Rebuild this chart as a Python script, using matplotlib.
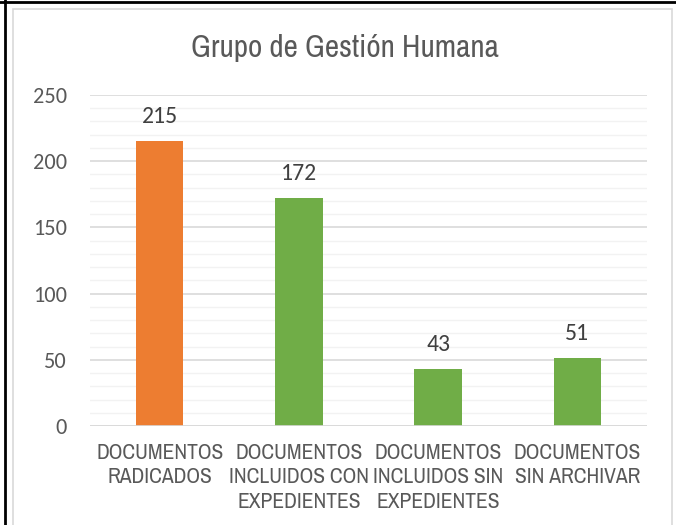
import matplotlib
matplotlib.use("Agg")
import matplotlib.pyplot as plt
from matplotlib.patches import Rectangle
from matplotlib.lines import Line2D
import numpy as np

categories = ["DOCUMENTOS\nRADICADOS", "DOCUMENTOS\nINCLUIDOS CON\nEXPEDIENTES",
              "DOCUMENTOS\nINCLUIDOS SIN\nEXPEDIENTES", "DOCUMENTOS\nSIN ARCHIVAR"]
values = [215, 172, 43, 51]
colors = ["#ED7D31", "#70AD47", "#70AD47", "#70AD47"]
yticks = [0, 50, 100, 150, 200, 250]
title = "Grupo de Gestión Humana"

NARROW = ["Liberation Sans Narrow", "Archivo Narrow", "DejaVu Sans"]
NUM = ["Carlito", "Lato", "DejaVu Sans"]

W, H = 676, 525
fig = plt.figure(figsize=(W / 100, H / 100), dpi=100)
fig.patch.set_facecolor("white")

# plot area in pixels: x 90..647, y 95..426
ax = fig.add_axes([90 / W, 1 - 426 / H, (647 - 90) / W, (426 - 95) / H])
x = np.arange(len(values))
ax.bar(x, values, width=0.34, color=colors, zorder=3)
ax.set_xlim(-0.5, len(values) - 0.5)
ax.set_ylim(0, 250)
ax.set_yticks(yticks)
ax.set_yticks(np.arange(0, 251, 10), minor=True)
ax.grid(axis="y", which="major", color="#D9D9D9", linewidth=1.2, zorder=0)
ax.grid(axis="y", which="minor", color="#F2F2F2", linewidth=1.0, zorder=0)
ax.tick_params(axis="y", which="both", length=0, labelsize=16, labelcolor="#595959", pad=16.5)
ax.tick_params(axis="x", length=0, pad=12)
for lbl in ax.get_yticklabels():
    lbl.set_fontfamily(NUM)
ax.set_xticks(x)
ax.set_xticklabels(categories, fontsize=15.5, color="#595959",
                   fontfamily=NARROW, linespacing=1.3)
for s in ax.spines.values():
    s.set_visible(False)
ax.axhline(0, color="#D9D9D9", linewidth=1.2, zorder=4)

for xi, v in zip(x, values):
    ax.annotate(str(v), (xi, v), xytext=(0, 13), textcoords="offset points",
                ha="center", va="baseline", fontsize=17, color="#404040", fontfamily=NUM)

fig.text(345 / W, 1 - 57 / H, title, ha="center", va="baseline", fontsize=22.5,
         color="#595959", fontfamily=NARROW)

# inner light chart border
fig.add_artist(Rectangle((13 / W, -0.01), (672 - 13) / W, 1 - 9 / H + 0.01,
                         transform=fig.transFigure, fill=False, edgecolor="#D9D9D9", linewidth=1.2))
# outer black border (left and top)
fig.add_artist(Line2D([5 / W, 5 / W], [0, 1], transform=fig.transFigure, color="black", linewidth=2))
fig.add_artist(Line2D([0, 1], [1 - 2 / H, 1 - 2 / H], transform=fig.transFigure, color="black", linewidth=2))

fig.savefig("out.png", dpi=100)
